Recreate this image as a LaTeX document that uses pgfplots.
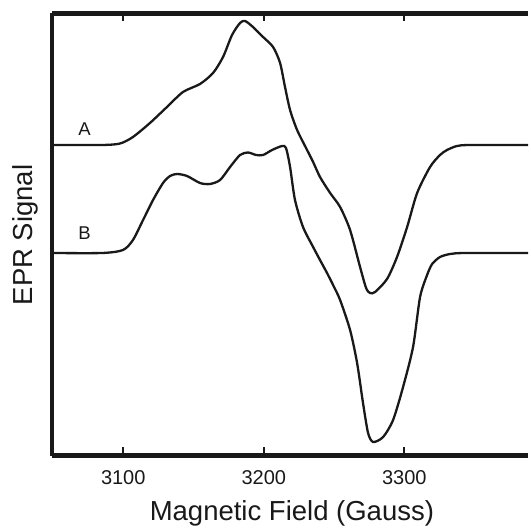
\documentclass[border=0pt]{standalone}
\usepackage{pgfplots}
\pgfplotsset{compat=1.18}
\usepackage{fontspec}
\setmainfont{Liberation Sans}

% traces, y in arbitrary units (0 = bottom of axis)
\pgfplotstableread{
x y
3049.3 310.5
3085.0 310.5
3097.7 312.0
3106.9 318.5
3119.0 332.5
3131.1 348.5
3142.5 363.5
3154.6 371.5
3163.9 382.5
3171.0 398.5
3177.4 420.5
3183.1 432.5
3186.7 434.5
3192.3 428.5
3199.5 418.5
3206.6 408.5
3211.6 392.5
3215.1 368.5
3218.7 345.5
3223.7 325.5
3230.8 305.5
3235.1 293.5
3240.0 278.5
3247.2 262.5
3254.3 248.5
3261.4 225.5
3268.5 188.5
3272.8 167.5
3275.6 162.5
3279.2 163.5
3287.7 176.5
3294.8 198.5
3302.0 228.5
3309.1 262.5
3318.3 288.5
3325.4 300.5
3330.4 305.5
3337.5 309.5
3346.8 310.5
3388.0 310.5
}\traceA

\pgfplotstableread{
x y
3049.3 202.5
3085.0 202.5
3099.8 205.5
3106.9 215.5
3114.1 235.5
3121.2 255.5
3128.3 272.5
3133.3 279.5
3138.3 281.5
3145.4 279.5
3154.6 272.5
3161.7 271.5
3168.9 275.5
3176.0 288.5
3183.1 300.5
3188.8 303.0
3194.5 300.5
3199.5 300.5
3205.9 305.5
3213.0 309.5
3215.8 307.5
3218.7 288.5
3222.2 255.5
3227.9 228.5
3235.1 208.5
3240.0 195.5
3245.0 182.5
3249.3 170.5
3254.3 155.5
3261.4 125.5
3266.4 92.5
3270.6 52.5
3274.2 22.5
3277.8 13.5
3284.9 18.5
3292.0 35.5
3299.1 68.5
3306.2 108.5
3311.2 158.5
3316.2 180.5
3319.8 191.5
3325.4 198.5
3332.6 201.5
3343.2 202.5
3388.0 202.5
}\traceB

\begin{document}
\begin{tikzpicture}
\begin{axis}[
  name=ax,
  at={(0,0)}, anchor=south west,
  scale only axis,
  width=476bp, height=442bp,
  xmin=3049.3, xmax=3388,
  ymin=0, ymax=442,
  axis x line=box,
  axis y line=left,
  axis line style={-, line width=4.2bp, black!90},
  xtick={3100,3200,3300,3400},
  ytick=\empty,
  tick align=inside,
  major tick length=8bp,
  tick style={line width=1.7bp, black!90},
  /pgf/number format/assume math mode=true,
  /pgf/number format/set thousands separator={},
  xticklabel style={font=\fontsize{20bp}{22bp}\selectfont, black!90, anchor=base, yshift=-28.5bp},
  every axis x label/.style={at={(axis description cs:0.504,-0.146)}, anchor=base},
  every axis y label/.style={at={(axis description cs:-0.04,0.499)}, rotate=90, anchor=base},
  label style={font=\fontsize{27.5bp}{30bp}\selectfont, black!90},
  xlabel={Magnetic Field (Gauss)},
  ylabel={EPR Signal},
  clip=true,
]
\addplot[black!90, line width=2.3bp, smooth, tension=0.45] table[x=x, y=y] {\traceA};
\addplot[black!90, line width=2.3bp, smooth, tension=0.45] table[x=x, y=y] {\traceB};
\node[anchor=base, font=\fontsize{18.5bp}{20bp}\selectfont, black!90] at (axis cs:3072.4,319.8) {A};
\node[anchor=base, font=\fontsize{18.5bp}{20bp}\selectfont, black!90] at (axis cs:3072.4,215.5) {B};
\end{axis}
\path[use as bounding box] (-52bp,-75.5bp) rectangle (476bp,455.5bp);
\end{tikzpicture}
\end{document}
